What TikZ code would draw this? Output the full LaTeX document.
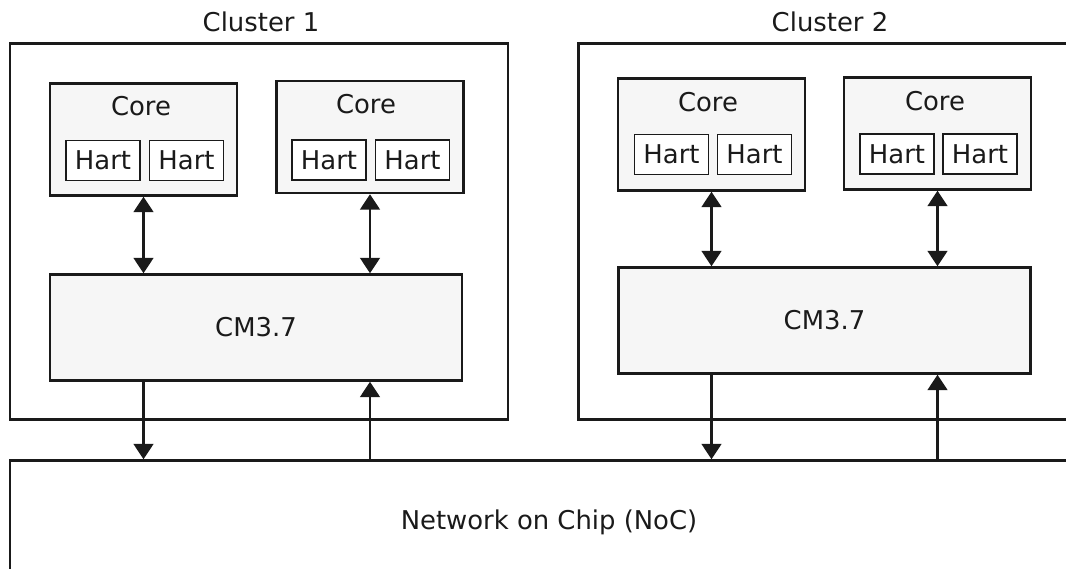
\documentclass[tikz,border=0pt]{standalone}
\usepackage{fontspec}
\setmainfont{DejaVu Sans}
\usetikzlibrary{arrows.meta}

\definecolor{inkgray}{HTML}{1A1A1A}
\definecolor{boxgray}{HTML}{F6F6F6}
\newcommand{\px}{0.025cm}

\tikzset{
  clusterbox/.style={draw=inkgray, line width=1.7pt, minimum width=498*\px, minimum height=376*\px, inner sep=0pt},
  corebox/.style={draw=inkgray, fill=boxgray, line width=1.7pt, minimum width=187*\px, minimum height=112*\px, inner sep=0pt},
  hartbox/.style={draw=inkgray, fill=white, line width=1pt, minimum width=74*\px, minimum height=40*\px, inner sep=0pt},
  cmbox/.style={draw=inkgray, fill=boxgray, line width=1.7pt, minimum width=412*\px, minimum height=106*\px, inner sep=0pt},
  nocbox/.style={draw=inkgray, line width=1.7pt, minimum width=1100*\px, minimum height=200*\px, inner sep=0pt},
  plain/.style={inner sep=0pt, text=inkgray},
  bilink/.style={draw=inkgray, line width=1.8pt, {Triangle[width=14pt,length=11pt]}-{Triangle[width=14pt,length=11pt]}},
  link/.style={draw=inkgray, line width=1.8pt, -{Triangle[width=14pt,length=11pt]}},
}

\begin{document}
\begin{tikzpicture}[x=\px, y=-\px, font=\fontsize{18.4}{22}\selectfont, text=inkgray]
    \clip (0,0) rectangle (1066,569);

    % clusters and network
    \node[clusterbox] (cl1) at (259,231.5) {};
    \node[clusterbox] (cl2) at (827.5,231.5) {};
    \node[nocbox] (noc) at (560,560.5) {};
    \node[plain, anchor=base] (cl1lbl) at (261,32) {Cluster 1};
    \node[plain, anchor=base] (cl2lbl) at (830,32) {Cluster 2};
    \node[plain, anchor=base] (noclbl) at (549,529.5) {Network on Chip (NoC)};

    % cores of cluster 1
    \node[corebox] (core1) at (143.5,139.5) {};
    \node[plain, anchor=base] (core1lbl) at (141,115.5) {Core};
    \node[hartbox] (hart11) at (103,160.5) {Hart};
    \node[hartbox] (hart12) at (186.5,160.5) {Hart};

    \node[corebox] (core2) at (370,137) {};
    \node[plain, anchor=base] (core2lbl) at (366,114) {Core};
    \node[hartbox] (hart21) at (329,160) {Hart};
    \node[hartbox] (hart22) at (412.5,160) {Hart};

    % cores of cluster 2
    \node[corebox] (core3) at (711.5,134.5) {};
    \node[plain, anchor=base] (core3lbl) at (708,111.5) {Core};
    \node[hartbox] (hart31) at (671.5,154.5) {Hart};
    \node[hartbox] (hart32) at (754.5,154.5) {Hart};

    \node[corebox] (core4) at (937.5,133.5) {};
    \node[plain, anchor=base] (core4lbl) at (935,111) {Core};
    \node[hartbox] (hart41) at (897,154) {Hart};
    \node[hartbox] (hart42) at (980,154) {Hart};

    % cache managers
    \node[cmbox] (cm1) at (256,327.5) {CM3.7};
    \node[cmbox] (cm2) at (824.5,320.5) {CM3.7};

    % core <-> CM
    \draw[bilink] (core1.south) -- (core1.south |- cm1.north);
    \draw[bilink] (core2.south) -- (core2.south |- cm1.north);
    \draw[bilink] (core3.south) -- (core3.south |- cm2.north);
    \draw[bilink] (core4.south) -- (core4.south |- cm2.north);

    % CM <-> NoC
    \draw[link] (core1 |- cm1.south) -- (core1 |- noc.north);
    \draw[link] (core2 |- noc.north) -- (core2 |- cm1.south);
    \draw[link] (core3 |- cm2.south) -- (core3 |- noc.north);
    \draw[link] (core4 |- noc.north) -- (core4 |- cm2.south);
\end{tikzpicture}
\end{document}
